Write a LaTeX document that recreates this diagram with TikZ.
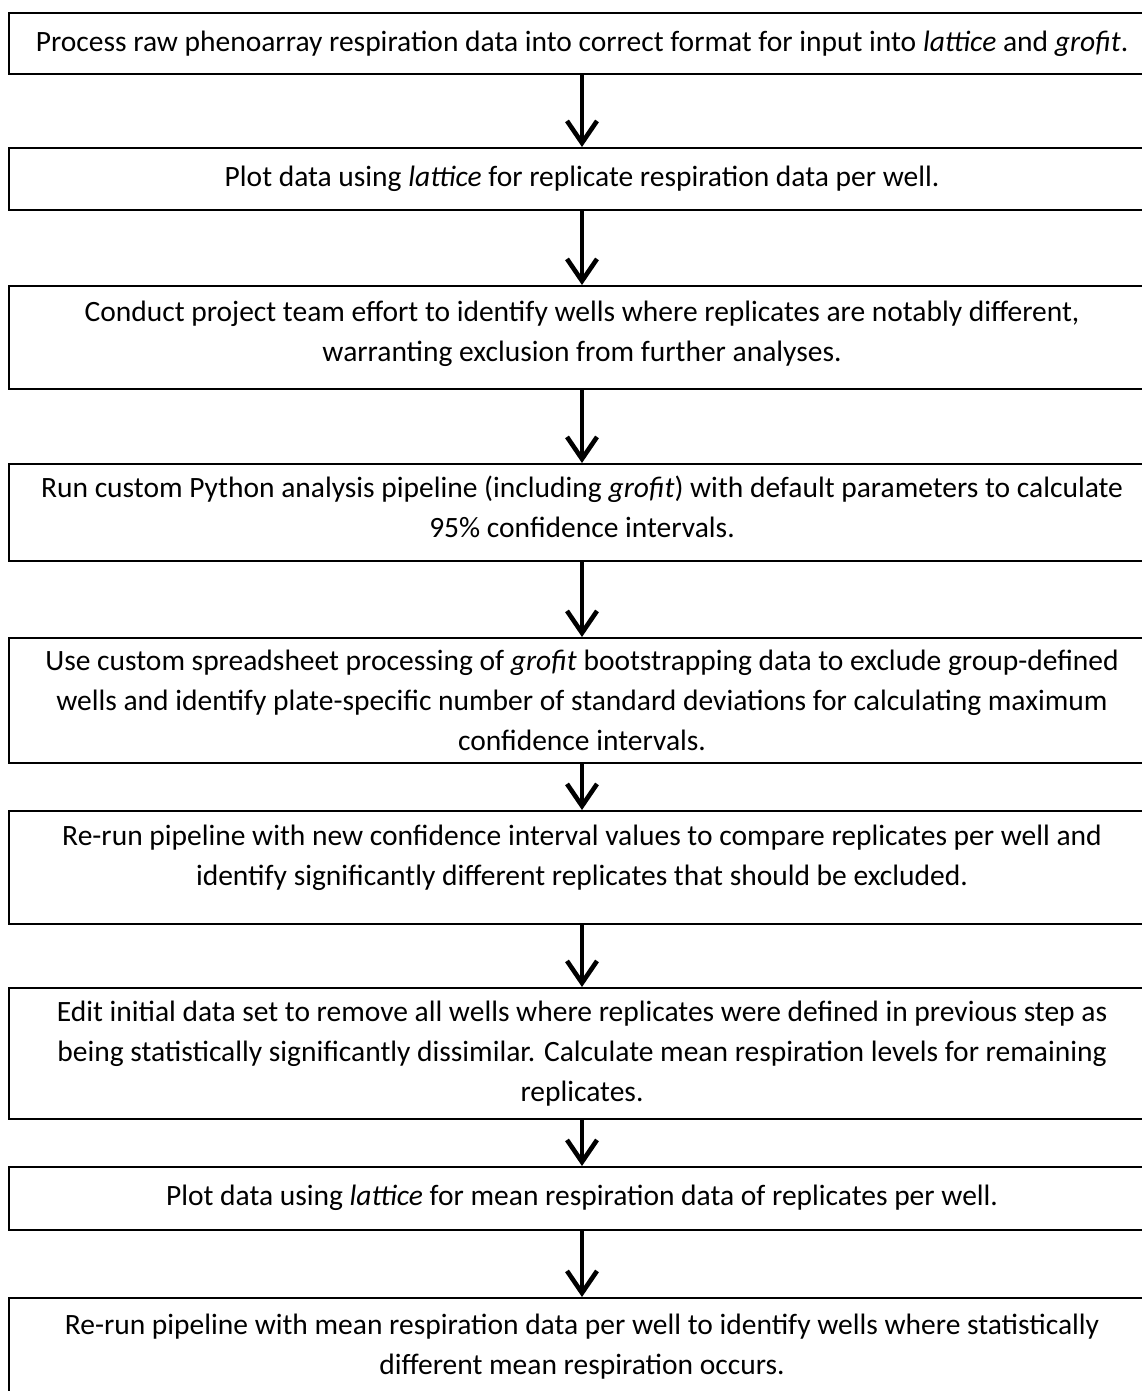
\documentclass[tikz,border=0pt]{standalone}
\usepackage{fontspec}
\setmainfont{Carlito}
\usetikzlibrary{arrows.meta}
\begin{document}
\begin{tikzpicture}[x=1pt,y=1pt,
  stepbox/.style={draw=black, line width=2.2pt, minimum width=1146pt, inner sep=0pt, anchor=north},
  txt/.style={anchor=north, inner sep=0pt, align=center, font=\fontsize{29.5}{40}\selectfont},
  arr/.style={line width=4.2pt, -{Straight Barb[length=22pt,width=30pt,line width=4.6pt]}}
]
\useasboundingbox (0,0) rectangle (1142,-1391);
\clip (0,0) rectangle (1142,-1391);
\node[stepbox, minimum height=61pt]  (b1) at (582,-12)   {};
\node[stepbox, minimum height=62pt]  (b2) at (582,-147)  {};
\node[stepbox, minimum height=103pt] (b3) at (582,-285)  {};
\node[stepbox, minimum height=97pt]  (b4) at (582,-463)  {};
\node[stepbox, minimum height=125pt] (b5) at (582,-637)  {};
\node[stepbox, minimum height=113pt] (b6) at (582,-810)  {};
\node[stepbox, minimum height=131pt] (b7) at (582,-987)  {};
\node[stepbox, minimum height=63pt]  (b8) at (582,-1166) {};
\node[stepbox, minimum height=200pt] (b9) at (582,-1297) {};

\node[txt] (t1) at ([yshift=-11pt]b1.north) {\strut Process raw phenoarray respiration data into correct format for input into \textit{lattice} and \textit{grofit}.};
\node[txt] (t2) at ([yshift=-11.5pt]b2.north) {\strut Plot data using \textit{lattice} for replicate respiration data per well.};
\node[txt] (t3) at ([yshift=-8.5pt]b3.north) {\strut Conduct project team effort to identify wells where replicates are notably different,\\ warranting exclusion from further analyses.};
\node[txt] (t4) at ([yshift=-6.5pt]b4.north) {\strut Run custom Python analysis pipeline (including \textit{grofit}) with default parameters to calculate\\ 95\% confidence intervals.};
\node[txt] (t5) at ([yshift=-5.5pt]b5.north) {\strut Use custom spreadsheet processing of \textit{grofit} bootstrapping data to exclude group-defined\\ wells and identify plate-specific number of standard deviations for calculating maximum\\ confidence intervals.};
\node[txt] (t6) at ([yshift=-7.5pt]b6.north) {\strut Re-run pipeline with new confidence interval values to compare replicates per well and\\ identify significantly different replicates that should be excluded.};
\node[txt] (t7) at ([yshift=-6pt]b7.north) {\strut Edit initial data set to remove all wells where replicates were defined in previous step as\\ being statistically significantly dissimilar. Calculate mean respiration levels for remaining\\ replicates.};
\node[txt] (t8) at ([yshift=-11.5pt]b8.north) {\strut Plot data using \textit{lattice} for mean respiration data of replicates per well.};
\node[txt] (t9) at ([yshift=-9.5pt]b9.north) {\strut Re-run pipeline with mean respiration data per well to identify wells where statistically\\ different mean respiration occurs.};

\draw[arr] (b1.south) -- (b2.north);
\draw[arr] (b2.south) -- (b3.north);
\draw[arr] (b3.south) -- (b4.north);
\draw[arr] (b4.south) -- (b5.north);
\draw[arr] (b5.south) -- (b6.north);
\draw[arr] (b6.south) -- (b7.north);
\draw[arr] (b7.south) -- (b8.north);
\draw[arr] (b8.south) -- (b9.north);
\end{tikzpicture}
\end{document}
